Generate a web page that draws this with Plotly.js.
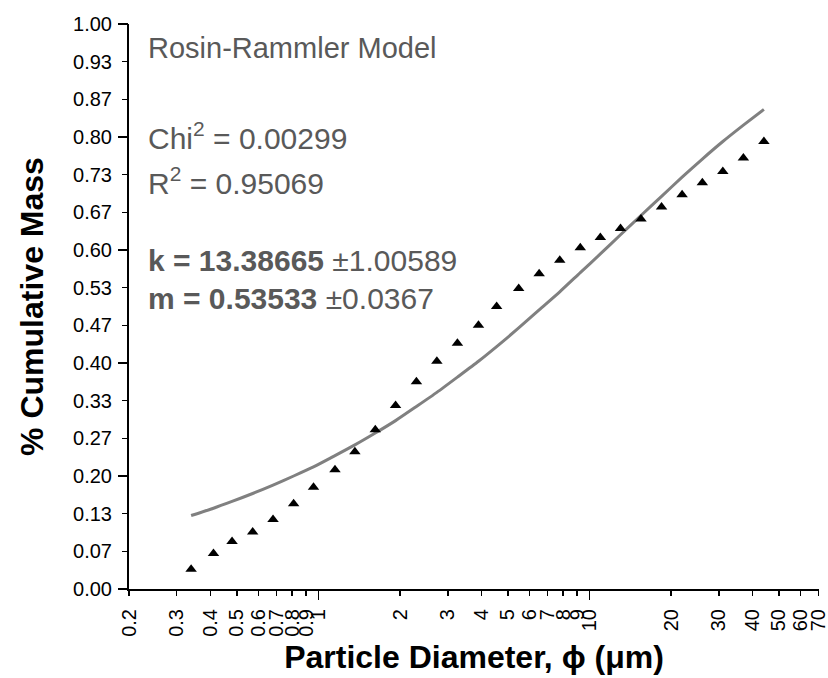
<!DOCTYPE html>
<html>
<head>
<meta charset="utf-8">
<script src="https://cdn.plot.ly/plotly-3.0.1.min.js"></script>
<style>html,body{margin:0;padding:0;background:#fff;}#chart{width:828px;height:678px;}</style>
</head>
<body>
<div id="chart"></div>
<script>
// Measured particle size data (diameter in µm, cumulative mass fraction)
const diameter = [0.339, 0.410, 0.480, 0.572, 0.680, 0.810, 0.959, 1.151, 1.363, 1.621,
  1.926, 2.299, 2.735, 3.257, 3.895, 4.545, 5.482, 6.522, 7.77, 9.25,
  10.97, 13.02, 15.49, 18.45, 21.97, 26.09, 31.05, 36.98, 44.02];
const cumMass = [0.035, 0.063, 0.084, 0.101, 0.123, 0.151, 0.180, 0.211, 0.243, 0.282,
  0.325, 0.367, 0.403, 0.435, 0.467, 0.500, 0.532, 0.558, 0.582, 0.604,
  0.622, 0.638, 0.655, 0.676, 0.698, 0.719, 0.739, 0.763, 0.792];
// Rosin-Rammler fitted curve at the same diameters
const fitMass = [0.130, 0.143, 0.155, 0.169, 0.184, 0.200, 0.216, 0.236, 0.255, 0.276,
  0.298, 0.323, 0.348, 0.375, 0.403, 0.429, 0.462, 0.494, 0.526, 0.560,
  0.593, 0.627, 0.661, 0.695, 0.729, 0.761, 0.792, 0.821, 0.849];

const xTickLabels = ['0.2','0.3','0.4','0.5','0.6','0.7','0.8','0.9','1','2','3','4','5','6','7','8','9','10','20','30','40','50','60','70'];
const xMajorTicks = [1, 10];
const yTickLabels = ['0.00','0.07','0.13','0.20','0.27','0.33','0.40','0.47','0.53','0.60','0.67','0.73','0.80','0.87','0.93','1.00'];
const yMajorLabels = ['0.00','0.20','0.40','0.60','0.80','1.00'];

const xTickVals = xTickLabels.map(Number);
const yTickVals = yTickLabels.map((s, i) => i / (yTickLabels.length - 1));
const yMajorVals = yMajorLabels.map(Number);

const FONT = 'Liberation Sans, Arial, sans-serif';
const xRange = [Math.log10(0.2), Math.log10(70.3)];

const traces = [
  {
    x: diameter, y: fitMass, type: 'scatter', mode: 'lines',
    line: {color: '#808080', width: 3, shape: 'spline', smoothing: 0.6},
    hoverinfo: 'skip', showlegend: false
  },
  {
    x: diameter, y: cumMass, type: 'scatter', mode: 'markers',
    marker: {symbol: 'triangle-up', size: 10, color: '#000000'},
    showlegend: false
  },
  {x: [1], y: [0.5], xaxis: 'x2', yaxis: 'y2', type: 'scatter', mode: 'markers',
   marker: {opacity: 0}, showlegend: false, hoverinfo: 'skip'}
];

function ann(text, y, size) {
  return {xref: 'paper', yref: 'paper', x: 0.0245, y: y, xanchor: 'left', yanchor: 'middle',
    text: text, showarrow: false, align: 'left',
    font: {family: FONT, size: size, color: '#595959'}};
}

const layout = {
  width: 828, height: 678,
  margin: {l: 129, r: 9, t: 24, b: 89},
  paper_bgcolor: '#ffffff', plot_bgcolor: '#ffffff',
  font: {family: FONT, size: 20, color: '#000'},
  showlegend: false,
  xaxis: {
    type: 'log', range: xRange, autorange: false,
    tickmode: 'array', tickvals: xTickVals, ticktext: xTickLabels,
    tickangle: -90, ticks: 'outside', ticklen: 5, tickwidth: 1.5, tickcolor: '#000',
    ticklabelstandoff: 5, ticklabeloverflow: 'allow',
    showline: true, linecolor: '#000', linewidth: 2, showgrid: false, zeroline: false,
    tickfont: {family: FONT, size: 20, color: '#000'},
    title: {text: 'Particle Diameter, ϕ (μm)', font: {family: FONT, size: 32, color: '#000', weight: 'bold'}, standoff: 10},
    automargin: false
  },
  yaxis: {
    range: [0, 1], autorange: false,
    tickmode: 'array', tickvals: yTickVals, ticktext: yTickLabels,
    ticks: 'outside', ticklen: 5, tickwidth: 1.5, tickcolor: '#000',
    ticklabelstandoff: 6, ticklabeloverflow: 'allow',
    showline: true, linecolor: '#000', linewidth: 2, showgrid: false, zeroline: false,
    tickfont: {family: FONT, size: 20, color: '#000'},
    title: {text: '% Cumulative Mass', font: {family: FONT, size: 32, color: '#000', weight: 'bold'}, standoff: 20},
    automargin: false
  },
  xaxis2: {
    type: 'log', range: xRange, autorange: false, overlaying: 'x', anchor: 'y', side: 'bottom',
    tickmode: 'array', tickvals: xMajorTicks, showticklabels: false,
    ticks: 'outside', ticklen: 10, tickwidth: 1.5, tickcolor: '#000',
    showline: false, showgrid: false, zeroline: false
  },
  yaxis2: {
    range: [0, 1], autorange: false, overlaying: 'y', anchor: 'x', side: 'left',
    tickmode: 'array', tickvals: yMajorVals, showticklabels: false,
    ticks: 'outside', ticklen: 10, tickwidth: 1.5, tickcolor: '#000',
    showline: false, showgrid: false, zeroline: false
  },
  annotations: [
    ann('Rosin-Rammler Model', 0.958, 29),
    ann('Chi<sup>2</sup> = 0.00299', 0.802, 30),
    ann('R<sup>2</sup> = 0.95069', 0.722, 30),
    ann('<b>k = 13.38665</b> ±1.00589', 0.582, 30),
    ann('<b>m = 0.53533</b> ±0.0367', 0.515, 30)
  ]
};

Plotly.newPlot('chart', traces, layout, {displayModeBar: false, staticPlot: true});
</script>
</body>
</html>
